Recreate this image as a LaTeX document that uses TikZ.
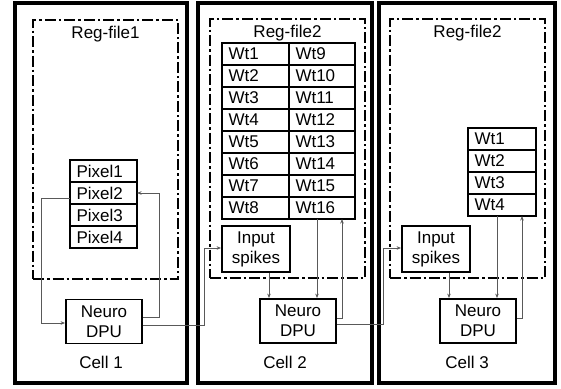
\documentclass[tikz,border=0pt]{standalone}
\usepackage{fontspec}
\setmainfont{Liberation Sans}
\usetikzlibrary{arrows.meta,positioning}

\begin{document}
\begin{tikzpicture}[
  x=1pt, y=-1pt,
  node distance=0pt,
  every node/.style={font=\fontsize{17}{20}\selectfont},
  cell/.style={draw, line width=3.5pt, minimum height=380pt},
  regfile/.style={draw, line width=2pt, minimum height=259pt, minimum width=155pt,
                  dash pattern=on 11pt off 3pt on 2.5pt off 3pt},
  reg/.style={draw, line width=2pt, outer sep=0pt, minimum height=22pt,
              inner ysep=0pt, inner xsep=6.5pt, text width=#1, align=left},
  reg/.default=54pt,
  unit/.style={draw, line width=1.8pt, align=center, inner sep=0pt},
  title/.style={inner sep=0pt},
  wire/.style={draw=black!65, line width=0.8pt},
  arr/.style={wire, -{Stealth[length=4.5pt,width=3.5pt]}}
]
  \useasboundingbox (0,0) rectangle (561,388);
  % cells
  \node[cell, minimum width=172pt] (cell1) at (101,193) {};
  \node[cell, minimum width=174pt] (cell2) at (285,193) {};
  \node[cell, minimum width=176pt] (cell3) at (467,193) {};
  \node[title, above=16pt of cell1.south] {Cell 1};
  \node[title, above=16pt of cell2.south] {Cell 2};
  \node[title, above=16pt of cell3.south] {Cell 3};
  % register files
  \node[regfile, minimum width=145pt] (rf1) at (105.5,149) {};
  \node[regfile] (rf2) at (287.5,148.5) {};
  \node[regfile] (rf3) at (467.5,148.5) {};
  \node[title, below=7pt of rf1.north] {Reg-file1};
  \node[title, below=7pt of rf2.north] {Reg-file2};
  \node[title, below=7pt of rf3.north] {Reg-file2};
  % cell 1: pixels
  \node[reg] (px1) at (103.5,171) {Pixel1};
  \node[reg, below=of px1] (px2) {Pixel2};
  \node[reg, below=of px2] (px3) {Pixel3};
  \node[reg, below=of px3] (px4) {Pixel4};
  % cell 2: weights
  \node[reg] (w1) at (255.5,54) {Wt1};
  \node[reg, below=of w1] (w2) {Wt2};
  \node[reg, below=of w2] (w3) {Wt3};
  \node[reg, below=of w3] (w4) {Wt4};
  \node[reg, below=of w4] (w5) {Wt5};
  \node[reg, below=of w5] (w6) {Wt6};
  \node[reg, below=of w6] (w7) {Wt7};
  \node[reg, below=of w7] (w8) {Wt8};
  \node[reg=53pt, right=of w1] (w9) {Wt9};
  \node[reg=53pt, below=of w9] (w10) {Wt10};
  \node[reg=53pt, below=of w10] (w11) {Wt11};
  \node[reg=53pt, below=of w11] (w12) {Wt12};
  \node[reg=53pt, below=of w12] (w13) {Wt13};
  \node[reg=53pt, below=of w13] (w14) {Wt14};
  \node[reg=53pt, below=of w14] (w15) {Wt15};
  \node[reg=53pt, below=of w15] (w16) {Wt16};
  % cell 3: weights
  \node[reg=55pt] (v1) at (502,139) {Wt1};
  \node[reg=55pt, below=of v1] (v2) {Wt2};
  \node[reg=55pt, below=of v2] (v3) {Wt3};
  \node[reg=55pt, below=of v3] (v4) {Wt4};
  % input spikes and DPUs
  \node[unit, minimum width=68pt, minimum height=46pt] (in2) at (256,249) {Input\\spikes};
  \node[unit, minimum width=68pt, minimum height=46pt] (in3) at (436,249) {Input\\spikes};
  \node[unit, minimum width=76pt, minimum height=44pt] (dpu1) at (104,321.5) {Neuro\\DPU};
  \node[unit, minimum width=76pt, minimum height=44pt] (dpu2) at (298,321) {Neuro\\DPU};
  \node[unit, minimum width=76pt, minimum height=44pt] (dpu3) at (478,321) {Neuro\\DPU};
  % cell 1 wiring
  \draw[arr] ([yshift=-5.5pt]px2.west) -- ++(-29,0) |- ([yshift=-1.5pt]dpu1.west);
  \draw[arr] ([yshift=4.5pt]dpu1.east) -- ++(16,0) |- (px2.east);
  \draw[arr] ([yshift=-3.5pt]dpu1.east) -- ++(61,0) |- ([yshift=1pt]in2.west);
  % cell 2 wiring
  \draw[arr] ([xshift=13pt]in2.south) -- ([xshift=13pt]in2.south |- dpu2.north);
  \draw[arr] ([xshift=-5pt]w16.south) -- ([xshift=-5pt]w16.south |- dpu2.north);
  \draw[arr] ([yshift=3pt]dpu2.east) -| ([xshift=20pt]w16.south);
  \draw[arr] ([yshift=-3pt]dpu2.east) -- ++(46,0) |- ([yshift=1pt]in3.west);
  % cell 3 wiring
  \draw[arr] ([xshift=13pt]in3.south) -- ([xshift=13pt]in3.south |- dpu3.north);
  \draw[arr] ([xshift=-5pt]v4.south) -- ([xshift=-5pt]v4.south |- dpu3.north);
  \draw[arr] ([yshift=3pt]dpu3.east) -| ([xshift=20pt]v4.south);
\end{tikzpicture}
\end{document}
